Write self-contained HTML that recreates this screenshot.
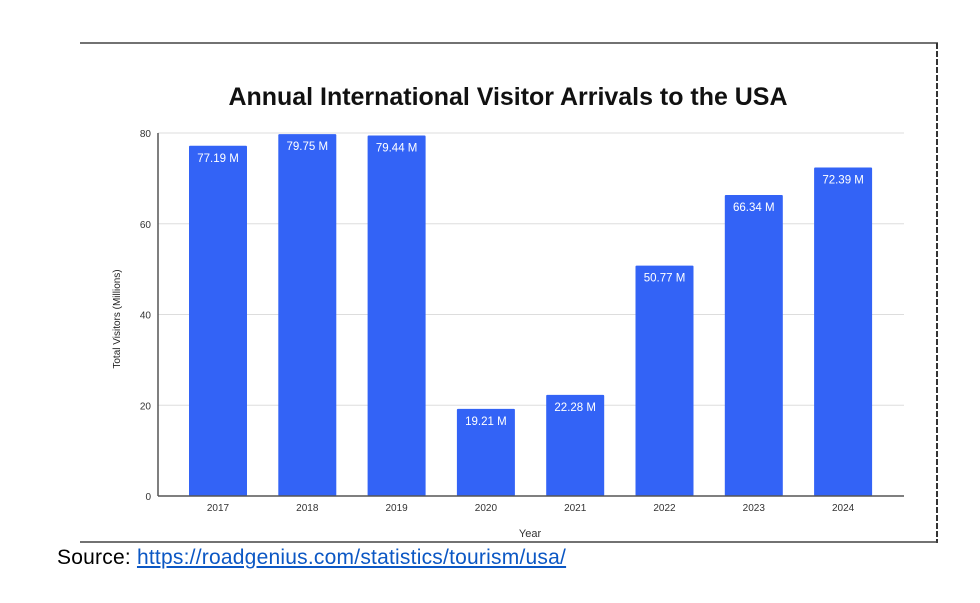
<!DOCTYPE html>
<html><head><meta charset="utf-8"><style>
body{margin:0;background:#fff;width:980px;height:603px;overflow:hidden;font-family:"Liberation Sans",sans-serif;position:relative}
</style></head><body>
<svg width="980" height="603" style="position:absolute;left:0;top:0">
<line x1="80" y1="43" x2="938" y2="43" stroke="#444" stroke-width="1.5"/>
<line x1="937" y1="43" x2="937" y2="543" stroke="#333" stroke-width="2" stroke-dasharray="6,2"/>
<line x1="80" y1="542" x2="938" y2="542" stroke="#444" stroke-width="1.5"/>
<text x="508" y="105" text-anchor="middle" font-size="25" font-weight="bold" fill="#111" textLength="559" lengthAdjust="spacingAndGlyphs">Annual International Visitor Arrivals to the USA</text>
<text transform="translate(120,319) rotate(-90)" text-anchor="middle" font-size="10" fill="#222">Total Visitors (Millions)</text>
<text x="530" y="537" text-anchor="middle" font-size="11" fill="#333">Year</text>
<g id="grid"></g><g id="bars"></g><g id="xl"></g>
<line x1="158" y1="133" x2="158" y2="496" stroke="#555" stroke-width="1.5"/>
<line x1="158" y1="496" x2="904" y2="496" stroke="#555" stroke-width="1.5"/>
</svg>
<div style="position:absolute;left:57px;top:546px;font-size:21px;color:#000;letter-spacing:0.22px;white-space:nowrap">Source: <a style="color:#0b57c4;text-decoration:underline">https://roadgenius.com/statistics/tourism/usa/</a></div>
<script>
const categories=["2017","2018","2019","2020","2021","2022","2023","2024"];
const values=[77.19,79.75,79.44,19.21,22.28,50.77,66.34,72.39];
const valueLabels=["77.19 M","79.75 M","79.44 M","19.21 M","22.28 M","50.77 M","66.34 M","72.39 M"];
const yTicks=[0,20,40,60,80];
const NS="http://www.w3.org/2000/svg";
const y=v=>496-v*(363/80);
const x=i=>218+i*89.3;
function mk(t,a,p){const e=document.createElementNS(NS,t);for(const k in a)e.setAttribute(k,a[k]);p.appendChild(e);return e;}
const g=document.getElementById('grid'),b=document.getElementById('bars'),xl=document.getElementById('xl');
yTicks.forEach(t=>{
 if(t>0){const l=mk('line',{x1:158,x2:904,y1:y(t),y2:y(t),stroke:'#ddd','stroke-width':1},g);
 
 }
 const tx=mk('text',{x:151,y:y(t)+4,'text-anchor':'end','font-size':10,fill:'#333'},g);tx.textContent=t;
 
 
});
categories.forEach((c,i)=>{
 const r=mk('rect',{x:x(i)-29,y:y(values[i]),width:58,height:496-y(values[i]),fill:'#3363f6',rx:1},b);
 
 
 const t=mk('text',{x:x(i),y:y(values[i])+16,'text-anchor':'middle','font-size':11.5,fill:'#fff'},b);t.textContent=valueLabels[i];
 
 
 const l=mk('text',{x:x(i),y:511,'text-anchor':'middle','font-size':10,fill:'#333'},xl);l.textContent=c;
 
 
});
</script>
</body></html>
